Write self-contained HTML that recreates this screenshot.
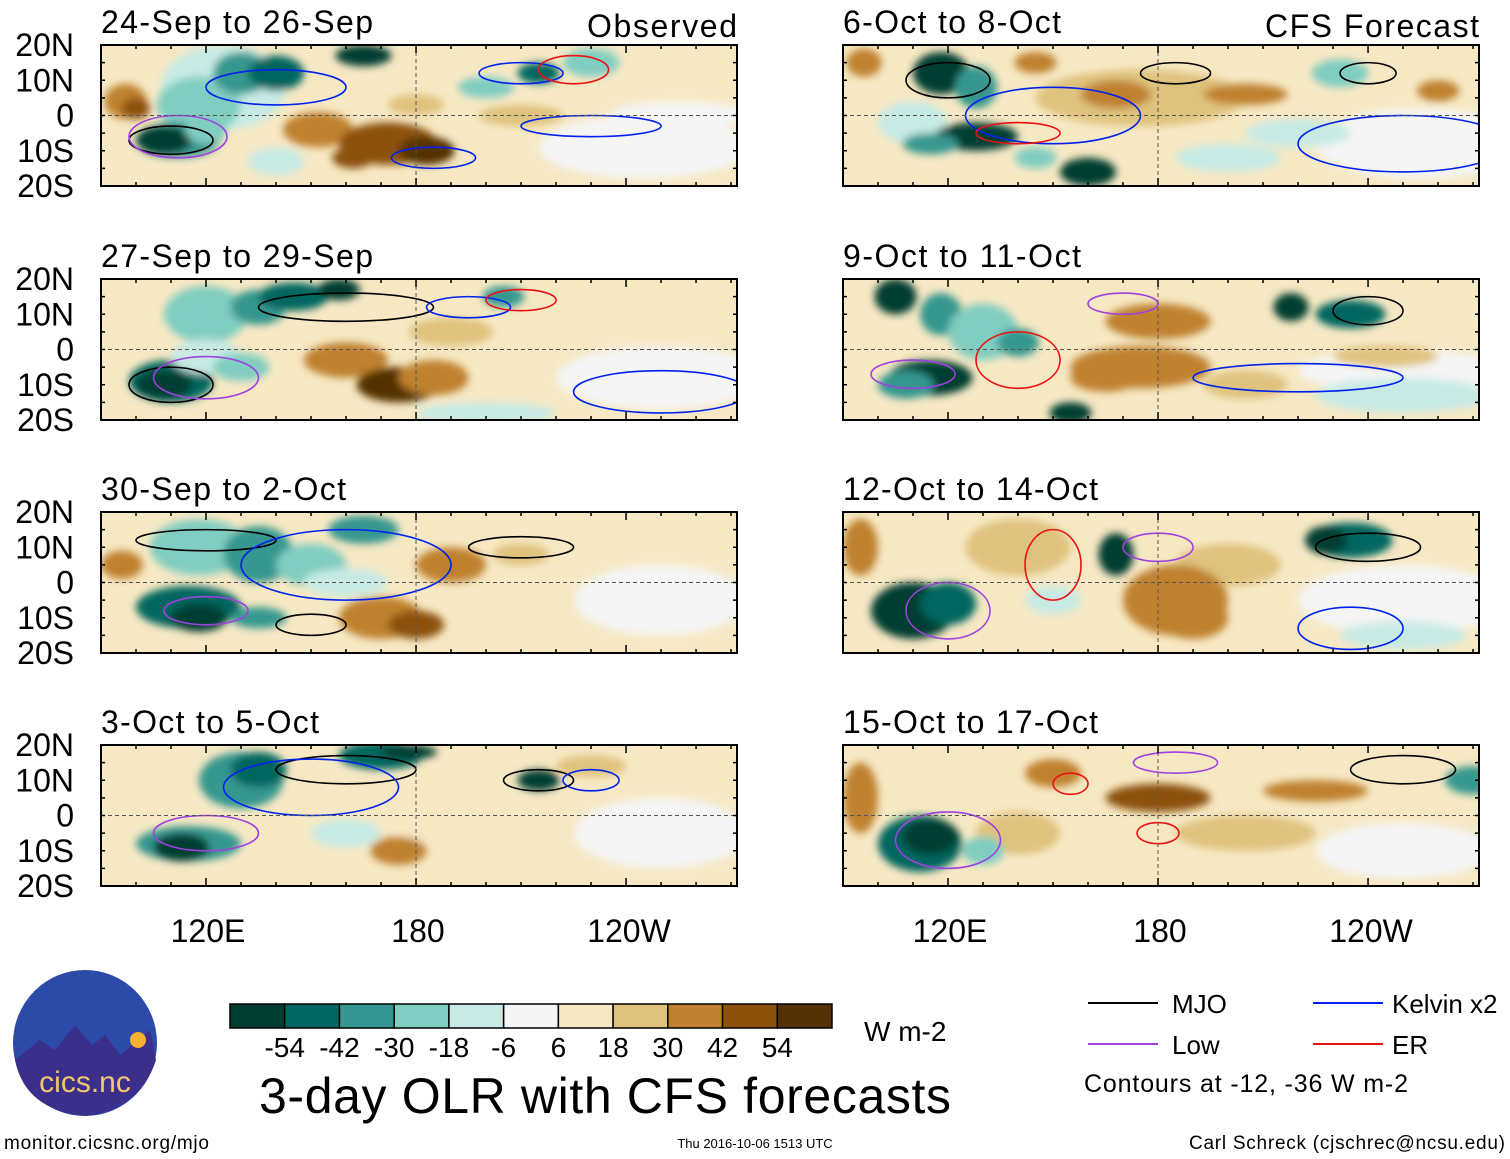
<!DOCTYPE html>
<html><head><meta charset="utf-8"><style>
html,body{margin:0;padding:0;background:#fff;}
svg{display:block;font-family:"Liberation Sans",sans-serif;}
</style></head><body>
<svg id="fig" width="1510" height="1159" viewBox="0 0 1510 1159" xmlns="http://www.w3.org/2000/svg">
<defs><filter id="blur" x="-50%" y="-50%" width="200%" height="200%"><feGaussianBlur stdDeviation="4"/></filter>
<clipPath id="c0"><rect x="101" y="45" width="636" height="142"/></clipPath>
<clipPath id="c1"><rect x="843" y="45" width="636" height="142"/></clipPath>
<clipPath id="c2"><rect x="101" y="279" width="636" height="141"/></clipPath>
<clipPath id="c3"><rect x="843" y="279" width="636" height="141"/></clipPath>
<clipPath id="c4"><rect x="101" y="512" width="636" height="141"/></clipPath>
<clipPath id="c5"><rect x="843" y="512" width="636" height="141"/></clipPath>
<clipPath id="c6"><rect x="101" y="745" width="636" height="141"/></clipPath>
<clipPath id="c7"><rect x="843" y="745" width="636" height="141"/></clipPath>
</defs>
<g id="panels"></g>
<g id="bottom">
  <text x="208" y="942" font-size="32" text-anchor="middle">120E</text>
  <text x="418" y="942" font-size="32" text-anchor="middle">180</text>
  <text x="629" y="942" font-size="32" text-anchor="middle">120W</text>
  <text x="950" y="942" font-size="32" text-anchor="middle">120E</text>
  <text x="1160" y="942" font-size="32" text-anchor="middle">180</text>
  <text x="1371" y="942" font-size="32" text-anchor="middle">120W</text>
  <g>
    <ellipse cx="85" cy="1043" rx="72" ry="73" fill="#2c4aa8"/>
    <path d="M15,1060 L40,1040 L55,1050 L75,1025 L92,1045 L105,1035 L120,1055 L150,1030 L156,1060 Q140,1110 85,1116 Q25,1110 15,1060Z" fill="#3a2f8a"/>
    <circle cx="138" cy="1040" r="8" fill="#f8b030"/>
    <text x="85" y="1092" font-size="30" fill="#f3c670" text-anchor="middle">cics.nc</text>
  </g>
  <text x="4" y="1149" font-size="19" textLength="205">monitor.cicsnc.org/mjo</text>
  <g id="cbar"></g>
  <text x="864" y="1041" font-size="28">W m-2</text>
  <text x="605" y="1113" font-size="50" text-anchor="middle" textLength="692">3-day OLR with CFS forecasts</text>
  <text x="755" y="1148" font-size="13" text-anchor="middle">Thu 2016-10-06 1513 UTC</text>
  <text x="1505" y="1149" font-size="19" text-anchor="end" textLength="316">Carl Schreck (cjschrec@ncsu.edu)</text>
  <g>
    <line x1="1088" y1="1003" x2="1158" y2="1003" stroke="#000" stroke-width="2"/>
    <text x="1172" y="1013" font-size="26">MJO</text>
    <line x1="1313" y1="1003" x2="1383" y2="1003" stroke="#0022ee" stroke-width="2"/>
    <text x="1392" y="1013" font-size="26">Kelvin x2</text>
    <line x1="1088" y1="1044" x2="1158" y2="1044" stroke="#a040e0" stroke-width="2"/>
    <text x="1172" y="1054" font-size="26">Low</text>
    <line x1="1313" y1="1044" x2="1383" y2="1044" stroke="#ee1111" stroke-width="2"/>
    <text x="1392" y="1054" font-size="26">ER</text>
    <text x="1084" y="1092" font-size="25" textLength="324">Contours at -12, -36 W m-2</text>
  </g>
</g>
</svg>
<script>
const levelColors=["#003c30","#01665e","#35978f","#80cdc1","#c7eae5","#f5f5f5","#f6e8c3","#dfc27d","#bf812d","#8c510a","#543005"];
const levelLabels=["-54","-42","-30","-18","-6","6","18","30","42","54"];
const panelTitles=["24-Sep to 26-Sep","6-Oct to 8-Oct","27-Sep to 29-Sep","9-Oct to 11-Oct","30-Sep to 2-Oct","12-Oct to 14-Oct","3-Oct to 5-Oct","15-Oct to 17-Oct"];
const latTicks=[20,10,0,-10,-20];
const latTickLabels=["20N","10N","0","10S","20S"];
// blobs: [lon, lat, lonRadius, latRadius, levelIndex]
const blobs0=[[245,-9,30,9,5],[255,0,20,4,5],[97,4,6,5,8],[100,2,4,3,9],[125,8,18,12,4],[118,3,12,8,3],[130,12,8,6,2],[140,12,8,5,1],[112,-7,12,5,2],[108,-7,8,4,0],[120,-4,6,4,3],[165,17,8,3,0],[152,-4,10,5,8],[172,-8,14,6,9],[183,-10,8,4,10],[162,-12,6,3,9],[215,12,6,3,1],[200,8,8,3,3],[210,0,12,3,7],[230,15,8,4,3],[180,3,8,3,7],[140,-13,8,4,4]];
const blobs1=[[255,-8,30,10,5],[220,-5,15,4,4],[96,15,5,4,8],[118,12,8,6,0],[128,8,6,6,2],[110,-2,10,6,4],[128,-6,12,4,0],[115,-8,8,3,2],[160,-16,8,4,0],[145,-12,6,3,3],[175,5,30,8,7],[168,6,10,4,8],[205,6,12,3,8],[232,12,8,4,3],[260,7,6,3,8],[145,15,6,3,8],[200,-12,15,4,4]];
const blobs2=[[250,-8,30,9,5],[120,10,12,8,3],[135,12,8,5,2],[145,15,10,4,1],[158,17,6,3,0],[110,-9,12,6,1],[108,-10,8,4,0],[120,-2,10,5,4],[130,-5,8,4,3],[160,-3,12,5,8],[175,-10,12,5,10],[185,-8,10,5,8],[205,15,6,3,2],[190,5,12,4,7],[200,-18,20,3,4]];
const blobs3=[[250,-6,30,6,5],[250,-13,25,5,4],[105,15,6,5,0],[118,10,6,6,2],[130,5,10,8,3],[140,2,6,4,2],[115,-8,12,5,0],[108,-10,8,4,2],[175,-5,20,6,8],[165,-8,10,4,8],[180,8,15,5,8],[155,-18,6,3,0],[218,12,5,4,0],[235,10,10,4,1],[245,-2,15,3,7],[205,-10,12,4,7]];
const blobs4=[[250,-5,25,10,5],[96,5,6,4,8],[118,10,14,8,3],[135,8,10,8,2],[150,5,10,6,3],[165,15,10,4,2],[115,-7,15,6,1],[118,-10,8,4,0],[135,-10,8,3,2],[170,-10,12,6,8],[180,-12,8,4,9],[190,5,10,5,8],[210,8,8,3,7],[160,0,12,4,4]];
const blobs5=[[250,-5,30,10,5],[250,-15,18,4,4],[95,10,5,8,8],[140,10,15,8,7],[200,5,15,6,7],[110,-8,12,8,0],[120,-6,8,6,1],[168,8,5,6,0],[185,-5,15,10,8],[190,-10,10,6,8],[235,12,12,5,1],[228,12,6,4,0],[150,-5,8,4,4]];
const blobs6=[[250,-5,25,10,5],[190,0,20,8,6],[130,10,12,8,2],[135,13,8,5,1],[115,-8,15,5,2],[113,-9,8,4,0],[170,17,12,4,1],[178,18,8,2,0],[175,-10,8,4,8],[215,10,6,3,0],[160,-5,10,4,4],[230,14,10,3,7]];
const blobs7=[[250,-10,25,8,5],[95,5,5,10,8],[140,-5,12,6,7],[205,-5,20,5,7],[112,-8,12,8,1],[115,-6,8,5,0],[130,-10,6,4,3],[180,5,15,4,9],[225,7,15,3,8],[270,10,8,4,2],[150,12,8,4,8]];
const allBlobs=[blobs0,blobs1,blobs2,blobs3,blobs4,blobs5,blobs6,blobs7];
// contours: [lon, lat, lonRadius, latRadius, colorIndex] (0 MJO,1 Kelvin,2 Low,3 ER)
const contourColors=["#000","#0022ee","#a040e0","#ee1111"];
const cont0=[[110,-7,12,4,0],[112,-6,14,6,2],[140,8,20,5,1],[210,12,12,3,1],[225,13,10,4,3],[185,-12,12,3,1],[230,-3,20,3,1]];
const cont1=[[120,10,12,5,0],[185,12,10,3,0],[240,12,8,3,0],[150,0,25,8,1],[140,-5,12,3,3],[250,-8,30,8,1]];
const cont2=[[110,-10,12,5,0],[160,12,25,4,0],[195,12,12,3,1],[210,14,10,3,3],[120,-8,15,6,2],[250,-12,25,6,1]];
const cont3=[[110,-7,12,4,2],[170,13,10,3,2],[240,11,10,4,0],[220,-8,30,4,1],[140,-3,12,8,3]];
const cont4=[[120,12,20,3,0],[120,-8,12,4,2],[210,10,15,3,0],[160,5,30,10,1],[150,-12,10,3,0]];
const cont5=[[120,-8,12,8,2],[150,5,8,10,3],[180,10,10,4,2],[240,10,15,4,0],[235,-13,15,6,1]];
const cont6=[[160,13,20,4,0],[120,-5,15,5,2],[215,10,10,3,0],[230,10,8,3,1],[150,8,25,8,1]];
const cont7=[[120,-7,15,8,2],[185,15,12,3,2],[250,13,15,4,0],[155,9,5,3,3],[180,-5,6,3,3]];
const allConts=[cont0,cont1,cont2,cont3,cont4,cont5,cont6,cont7];
const titleWidths=[272,218,272,238,245,255,218,255];

const NS="http://www.w3.org/2000/svg";
function mk(t,a,p){const e=document.createElementNS(NS,t);for(const k in a)e.setAttribute(k,a[k]);p.appendChild(e);return e;}
const panelsG=document.getElementById('panels');
const colX=[101,843], rowY=[45,279,512,745], PW=636, PH=141;
const lon0=90, lon1=271.7, latMax=20;
for(let i=0;i<8;i++){
  const col=i%2,row=Math.floor(i/2);
  const x0=colX[col],y0=rowY[row];
  const xs=lon=>x0+(lon-lon0)/(lon1-lon0)*PW;
  const ys=lat=>y0+(latMax-lat)/(2*latMax)*PH;
  const g=mk('g',{},panelsG);
  
  
  const inner=mk('g',{'clip-path':'url(#c'+i+')'},g);
  mk('rect',{x:x0,y:y0,width:PW,height:PH,fill:levelColors[6]},inner);
  const bg=mk('g',{filter:'url(#blur)'},inner);
  allBlobs[i].forEach(b=>{
    const e=mk('ellipse',{cx:xs(b[0]),cy:ys(b[1]),rx:b[2]*PW/(lon1-lon0),ry:b[3]*PH/40,fill:levelColors[b[4]]},bg);
    
    
  });
  allConts[i].forEach(c=>{
    const e=mk('ellipse',{cx:xs(c[0]),cy:ys(c[1]),rx:c[2]*PW/(lon1-lon0),ry:c[3]*PH/40,fill:'none',stroke:contourColors[c[4]],'stroke-width':1.6},inner);
    
    
  });
  mk('line',{x1:x0,y1:ys(0),x2:x0+PW,y2:ys(0),stroke:'#555','stroke-dasharray':'4,3','stroke-width':1},inner);
  mk('line',{x1:xs(180),y1:y0,x2:xs(180),y2:y0+PH,stroke:'#555','stroke-dasharray':'4,3','stroke-width':1},inner);
  mk('rect',{x:x0,y:y0,width:PW,height:PH,fill:'none',stroke:'#000','stroke-width':2},g);
  for(let lon=90;lon<=270;lon+=10){
    const len=(lon%60===0)?8:4;
    mk('line',{x1:xs(lon),y1:y0,x2:xs(lon),y2:y0+len,stroke:'#000','stroke-width':1.5},g);
    mk('line',{x1:xs(lon),y1:y0+PH,x2:xs(lon),y2:y0+PH-len,stroke:'#000','stroke-width':1.5},g);
  }
  for(let lat=-20;lat<=20;lat+=5){
    mk('line',{x1:x0,y1:ys(lat),x2:x0+4,y2:ys(lat),stroke:'#000','stroke-width':1.5},g);
    mk('line',{x1:x0+PW,y1:ys(lat),x2:x0+PW-4,y2:ys(lat),stroke:'#000','stroke-width':1.5},g);
  }
  const t=mk('text',{x:x0,y:y0-12,'font-size':32,textLength:titleWidths[i]},g);
  t.textContent=panelTitles[i];
  
  
  if(col===0){
    latTicks.forEach((lat,k)=>{
      const lt=mk('text',{x:74,y:ys(lat)+11,'font-size':32,'text-anchor':'end'},g);
      lt.textContent=latTickLabels[k];
      
      
    });
  }
}
const obs=mk('text',{x:737,y:37,'font-size':32,'text-anchor':'end',textLength:150},panelsG);
obs.textContent='Observed';


const cfs=mk('text',{x:1479,y:37,'font-size':32,'text-anchor':'end',textLength:214},panelsG);
cfs.textContent='CFS Forecast';



const cb=document.getElementById('cbar');
const cbX=230,cbW=602,cbY=1004,cbH=24,bw=cbW/levelColors.length;
levelColors.forEach((c,k)=>{
  const r=mk('rect',{x:cbX+k*bw,y:cbY,width:bw,height:cbH,fill:c,stroke:'#000','stroke-width':1.5},cb);
  
  
});
levelLabels.forEach((l,k)=>{
  const t=mk('text',{x:cbX+(k+1)*bw,y:1057,'font-size':28,'text-anchor':'middle'},cb);
  t.textContent=l;
  
  
});
</script>
</body></html>
